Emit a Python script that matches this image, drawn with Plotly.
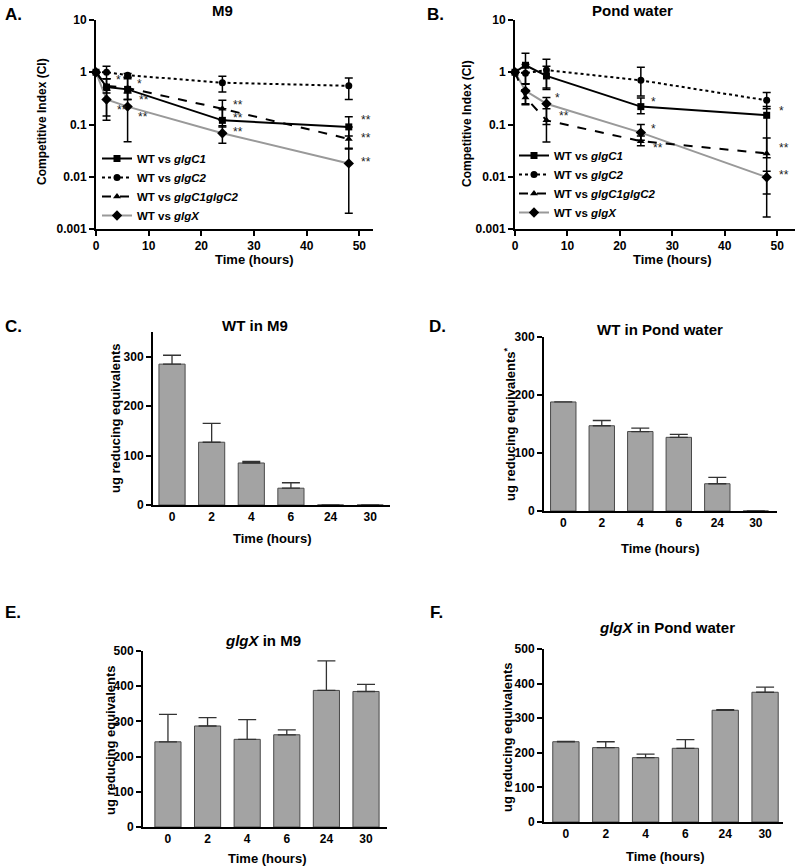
import numpy as np
import plotly.graph_objects as go

W, H = 800, 868

# ---------------- data: competitive index (panels A, B) ----------------
ci_time = [0, 2, 6, 24, 48]
ci_ticks = [0.001, 0.01, 0.1, 1, 10]
ci_ticktext = ["0.001", "0.01", "0.1", "1", "10"]

A_glgC1 = [1, 0.52, 0.47, 0.12, 0.09]
A_glgC1_hi = [1, 0.75, 0.75, 0.20, 0.14]
A_glgC1_lo = [1, 0.145, 0.30, 0.09, 0.06]
A_glgC2 = [1, 1.0, 0.88, 0.63, 0.55]
A_glgC2_hi = [1, 1.3, 0.95, 0.84, 0.78]
A_glgC2_lo = [1, 0.75, 0.80, 0.42, 0.30]
A_glgC1glgC2 = [1, 0.55, 0.50, 0.20, 0.053]
A_glgC1glgC2_hi = [1, 0.75, 0.80, 0.29, 0.09]
A_glgC1glgC2_lo = [1, 0.40, 0.30, 0.12, 0.035]
A_glgX = [1, 0.30, 0.22, 0.068, 0.018]
A_glgX_hi = [1, 0.45, 0.40, 0.095, 0.034]
A_glgX_lo = [1, 0.12, 0.047, 0.044, 0.002]

B_glgC1 = [1, 1.36, 0.85, 0.22, 0.15]
B_glgC1_hi = [1, 2.3, 1.77, 0.32, 0.22]
B_glgC1_lo = [1, 0.60, 0.47, 0.16, 0.0017]
B_glgC2 = [1, 0.96, 1.1, 0.70, 0.29]
B_glgC2_hi = [1, 1.4, 1.3, 1.25, 0.41]
B_glgC2_lo = [1, 0.60, 0.50, 0.35, 0.20]
B_glgC1glgC2 = [1, 0.33, 0.12, 0.048, 0.028]
B_glgC1glgC2_hi = [1, 0.45, 0.20, 0.060, 0.055]
B_glgC1glgC2_lo = [1, 0.24, 0.10, 0.039, 0.023]
B_glgX = [1, 0.44, 0.25, 0.070, 0.0098]
B_glgX_hi = [1, 0.59, 0.33, 0.10, 0.0128]
B_glgX_lo = [1, 0.25, 0.046, 0.050, 0.0047]

series_names = ["WT vs <i>glgC1</i>", "WT vs <i>glgC2</i>",
                "WT vs <i>glgC1glgC2</i>", "WT vs <i>glgX</i>"]

# significance marks: (time, CI, label)
A_stars = [(3.4, 0.70, "*"), (7.4, 0.59, "*"), (3.6, 0.19, "**"), (7.8, 0.29, "**"),
           (7.6, 0.137, "**"), (25.6, 0.24, "**"), (25.6, 0.135, "**"), (25.6, 0.071, "**"),
           (50.0, 0.12, "**"), (50.0, 0.055, "**"), (50.0, 0.019, "**")]
B_stars = [(7.2, 0.32, "*"), (8.0, 0.144, "**"), (25.6, 0.27, "*"), (25.6, 0.081, "*"),
           (26.0, 0.035, "**"), (50.0, 0.18, "*"), (50.0, 0.035, "**"), (50.0, 0.011, "**")]

# ---------------- data: reducing equivalents (panels C-F) ----------------
bar_times = ["0", "2", "4", "6", "24", "30"]
C_vals = [285, 127, 85, 34, 0, 0]
C_err = [18, 38, 3, 11, None, None]
D_vals = [188, 147, 137, 127, 47, 0]
D_err = [0, 9, 6, 5, 11, None]
E_vals = [242, 287, 249, 262, 388, 385]
E_err = [78, 24, 56, 14, 84, 20]
F_vals = [232, 215, 186, 213, 323, 375]
F_err = [1, 17, 10, 25, 2, 15]

FONT = "Liberation Sans, Arial, Helvetica, sans-serif"


def px_x(p):
    return p / W


def px_y(p):
    return 1 - p / H


fig = go.Figure()

styles = [
    dict(dash="solid", color="black", symbol="square", size=7),
    dict(dash="dot", color="black", symbol="circle", size=7),
    dict(dash="dash", color="black", symbol="triangle-up", size=7),
    dict(dash="solid", color="#999999", symbol="diamond", size=8),
]

A_data = [(A_glgC1, A_glgC1_hi, A_glgC1_lo), (A_glgC2, A_glgC2_hi, A_glgC2_lo),
          (A_glgC1glgC2, A_glgC1glgC2_hi, A_glgC1glgC2_lo), (A_glgX, A_glgX_hi, A_glgX_lo)]
B_data = [(B_glgC1, B_glgC1_hi, B_glgC1_lo), (B_glgC2, B_glgC2_hi, B_glgC2_lo),
          (B_glgC1glgC2, B_glgC1glgC2_hi, B_glgC1glgC2_lo), (B_glgX, B_glgX_hi, B_glgX_lo)]

for data, xa, ya, leg in [(A_data, "x", "y", "legend"), (B_data, "x2", "y2", "legend2")]:
    order = [3, 0, 1, 2]
    for i in order:
        vals, hi, lo = data[i]
        st = styles[i]
        fig.add_trace(go.Scatter(
            x=ci_time, y=vals, xaxis=xa, yaxis=ya, name=series_names[i],
            legend=leg, legendrank=i + 1,
            mode="lines+markers", cliponaxis=False,
            line=dict(color=st["color"], dash=st["dash"], width=2),
            marker=dict(color="black", symbol=st["symbol"], size=st["size"]),
            error_y=dict(type="data", symmetric=False,
                         array=[h - v for h, v in zip(hi, vals)],
                         arrayminus=[v - l for v, l in zip(vals, lo)],
                         color="black", thickness=1.5, width=4),
        ))

bar_panels = [(C_vals, C_err, "x3", "y3"), (D_vals, D_err, "x4", "y4"),
              (E_vals, E_err, "x5", "y5"), (F_vals, F_err, "x6", "y6")]
for vals, err, xa, ya in bar_panels:
    fig.add_trace(go.Bar(
        x=bar_times, y=vals, xaxis=xa, yaxis=ya, width=0.66, showlegend=False,
        marker=dict(color="#a3a3a3", line=dict(color="#4a4a4a", width=1)),
        error_y=dict(type="data", symmetric=False, array=err,
                     arrayminus=[0] * len(vals), color="#333333",
                     thickness=1.3, width=9),
    ))

tickfont = dict(family=FONT, size=12, color="black", weight="bold")
axis_common = dict(showline=True, linecolor="black", linewidth=2, showgrid=False,
                   zeroline=False, tickfont=tickfont, ticks="outside", ticklen=5,
                   tickwidth=2, tickcolor="black", mirror=False, automargin=False)

layout_axes = {}
# panel A, B
for k, (xd, yd, xr) in {"": ((96, 373), (20, 229), [0, 52.6]),
                        "2": ((515, 795), (20, 229), [0, 53.4])}.items():
    layout_axes["xaxis" + k] = dict(axis_common, domain=[px_x(xd[0]), px_x(xd[1])],
                                    range=xr, tickvals=[0, 10, 20, 30, 40, 50],
                                    anchor="y" + k)
    layout_axes["yaxis" + k] = dict(axis_common, domain=[px_y(yd[1]), px_y(yd[0])],
                                    type="log", range=[-3, 1], tickvals=ci_ticks,
                                    ticktext=ci_ticktext, anchor="x" + k)

bar_axes = {
    "3": ((153, 390), (332, 505), [-0.48, 5.5], [0, 350], [0, 100, 200, 300]),
    "4": ((544, 777), (337, 511), [-0.5, 5.55], [0, 300], [0, 100, 200, 300]),
    "5": ((143, 387), (651, 827), [-0.63, 5.53], [0, 500], [0, 100, 200, 300, 400, 500]),
    "6": ((544, 783), (649, 822), [-0.55, 5.45], [0, 500], [0, 100, 200, 300, 400, 500]),
}
for k, (xd, yd, xr, yr, yt) in bar_axes.items():
    layout_axes["xaxis" + k] = dict(axis_common, domain=[px_x(xd[0]), px_x(xd[1])],
                                    range=xr, type="category", ticks="",
                                    anchor="y" + k)
    layout_axes["yaxis" + k] = dict(axis_common, domain=[px_y(yd[1]), px_y(yd[0])],
                                    range=yr, tickvals=yt, anchor="x" + k)

annotations = []


def add_text(text, x, y, size, angle=0, bold=True, xanchor="center"):
    annotations.append(dict(text=text, x=px_x(x), y=px_y(y), xref="paper", yref="paper",
                            showarrow=False, textangle=angle, xanchor=xanchor,
                            yanchor="middle",
                            font=dict(family=FONT, size=size, color="black",
                                      weight="bold" if bold else "normal")))


# panel labels
for lab, x, y in [("A.", 3, 15), ("B.", 425, 15), ("C.", 3, 327), ("D.", 427, 327),
                  ("E.", 3, 612), ("F.", 428, 612)]:
    add_text(lab, x, y, 17, xanchor="left")

# titles
for t, x, y in [("M9", 222, 10), ("Pond water", 632, 10), ("WT in M9", 255, 325),
                ("WT in Pond water", 660, 329), ("<i>glgX</i> in M9", 263, 640),
                ("<i>glgX</i> in Pond water", 667, 627)]:
    add_text(t, x, y, 15)

# x-axis titles
for x, y in [(254, 260), (672, 260), (272, 538), (660, 548), (267, 858), (665, 856)]:
    add_text("Time (hours)", x, y, 13)

# y-axis titles
add_text("Competitive Index (CI)", 42, 122, 12, angle=-90)
add_text("Competitive Index (CI)", 467, 124, 12, angle=-90)
add_text("ug reducing equivalents", 115, 418, 13, angle=-90)
add_text("ug reducing equivalents<sup>*</sup>", 510, 424, 13, angle=-90)
add_text("ug reducing equivalents", 110, 740, 13, angle=-90)
add_text("ug reducing equivalents", 507, 737, 13, angle=-90)

# significance asterisks
for stars, xr, yr in [(A_stars, "x", "y"), (B_stars, "x2", "y2")]:
    for t, v, s in stars:
        annotations.append(dict(text=s, x=t, y=float(np.log10(v)), xref=xr, yref=yr,
                                showarrow=False, xanchor="left", yanchor="middle",
                                font=dict(family=FONT, size=12, color="#222222")))

legend_common = dict(font=dict(family=FONT, size=11.5, color="black", weight="bold"),
                     bgcolor="rgba(0,0,0,0)", xanchor="left", yanchor="top",
                     tracegroupgap=0, itemwidth=30, traceorder="normal")

fig.update_layout(
    width=W, height=H, margin=dict(l=0, r=0, t=0, b=0, autoexpand=False),
    paper_bgcolor="white", plot_bgcolor="white",
    showlegend=True,
    legend=dict(legend_common, x=px_x(97), y=px_y(144)),
    legend2=dict(legend_common, x=px_x(514), y=px_y(141)),
    annotations=annotations,
    bargap=0.34,
    **layout_axes,
)

fig.write_html("out.html", config={"displayModeBar": False},
               post_script="document.body.style.margin='0';")
